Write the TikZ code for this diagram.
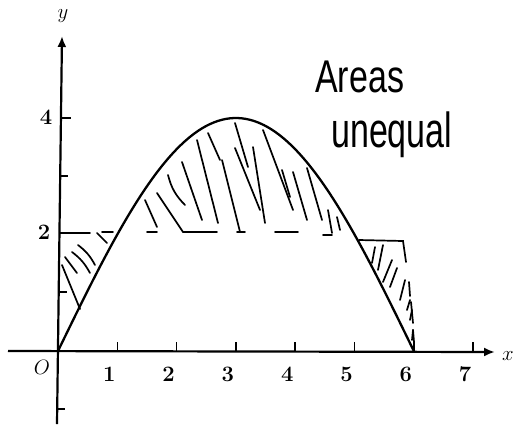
\documentclass[tikz,border=0pt]{standalone}
\usepackage{fontspec}
\newfontfamily\handfont{Liberation Sans}
\usetikzlibrary{arrows.meta}
\begin{document}
\begin{tikzpicture}[x=1pt,y=-1pt,
  axis/.style={line width=2.2pt},
  tickmark/.style={line width=1.6pt},
  curve/.style={line width=2.3pt},
  hatch/.style={line width=1.7pt, line cap=round},
  dashseg/.style={line width=1.7pt, line cap=round},
  ticklab/.style={font=\fontsize{22}{22}\selectfont\bfseries, inner sep=0pt},
  axlab/.style={font=\fontsize{20}{20}\selectfont, inner sep=0pt},
  hand/.style={font=\handfont\fontsize{34}{34}\selectfont, inner sep=0pt}]
\useasboundingbox (0,0) rectangle (513,424);
% axes
\coordinate (O) at (58,351);
\coordinate (xL) at (8,351);
\coordinate (xR) at (495,352);
\coordinate (yB) at (57,424);
\coordinate (yT) at (62,36);
\draw[axis,-{Latex[length=11pt,width=9pt]}] (xL) -- (xR);
\draw[axis,-{Latex[length=11pt,width=9pt]}] (yB) -- (yT);
\node[axlab] (ylab) at (63,16) {$y$};
\node[axlab] (xlab) at (508,356) {$x$};
\node[ticklab] (olab) at (42,367) {$O$};
% x ticks
\foreach \i in {1,...,7}{
  \draw[tickmark] ({58+59.3*\i},351) -- ++(0,-9);
  \node[ticklab] (lx\i) at ({50+59.3*\i},374) {\i};
}
% y ticks
\draw[tickmark] (60.95,118) -- ++(10,0);
\draw[tickmark] (60.2,176) -- ++(8,0);
\draw[tickmark] (59.45,233) -- ++(10,0);
\draw[tickmark] (58.7,292) -- ++(8,0);
\draw[tickmark] (57.2,409) -- ++(8,0);
\node[ticklab] (ly4) at (46,117) {4};
\node[ticklab] (ly2) at (44,232) {2};
% curve
\draw[curve] plot[domain=0:6, samples=90, smooth] ({58+59.3*\x},{351-233*sin(30*\x)});
% dashed line y = 2 (pieces)
\draw[dashseg] (62,233) -- (90,233);
\draw[dashseg] (102,232) -- (113,232);
\draw[dashseg] (147,232) -- (157,232);
\draw[dashseg] (183,232) -- (217,232);
\draw[dashseg] (237,232) -- (245,232);
\draw[dashseg] (275,232) -- (298,232);
\draw[dashseg] (323,235) -- (332,235);
% right box
\draw[dashseg] (359,240) -- (403,241) -- (406,262);
\draw[dashseg] (409,282) -- (410,296);
\draw[dashseg] (411,302) -- (413,323);
\draw[dashseg] (413,330) -- (414,342);
% left hatching
\draw[hatch] (97,233) -- (107,243);
\draw[hatch] (78,245) to[bend left=12] (95,265);
\draw[hatch] (72,252) to[bend left=12] (90,273);
\draw[hatch] (65,257) -- (77,273);
\draw[hatch] (62,265) -- (80,309);
% middle hatching
\draw[hatch] (145,200) -- (157,227);
\draw[hatch] (157,193) -- (183,232);
\draw[hatch] (168,175) to[bend right=15] (185,205);
\draw[hatch] (182,162) -- (202,220);
\draw[hatch] (197,140) -- (218,223);
\draw[hatch] (208,133) -- (220,160);
\draw[hatch] (222,160) -- (240,232);
\draw[hatch] (235,123) -- (248,167);
\draw[hatch] (235,148) -- (260,210);
\draw[hatch] (253,147) -- (265,223);
\draw[hatch] (263,130) -- (293,210);
\draw[hatch] (282,170) -- (290,197);
\draw[hatch] (293,172) -- (307,220);
\draw[hatch] (307,168) -- (322,220);
\draw[hatch] (328,210) -- (332,233);
\draw[hatch] (337,217) -- (340,230);
% right hatching
\draw[hatch] (375,247) -- (372,263);
\draw[hatch] (383,245) -- (378,270);
\draw[hatch] (392,260) -- (383,282);
\draw[hatch] (397,268) -- (390,287);
\draw[hatch] (405,280) -- (400,300);
\draw[hatch] (410,300) -- (407,310);
\draw[hatch] (412,310) -- (410,320);
\draw[hatch] (413,330) -- (412,340);
% handwritten note
\node[hand, anchor=base west] (areas) at (315,92) {\scalebox{1}[1.35]{Areas}};
\node[hand, anchor=base west] (uneq) at (331,147) {\scalebox{1}[1.45]{unequal}};
\end{tikzpicture}
\end{document}
